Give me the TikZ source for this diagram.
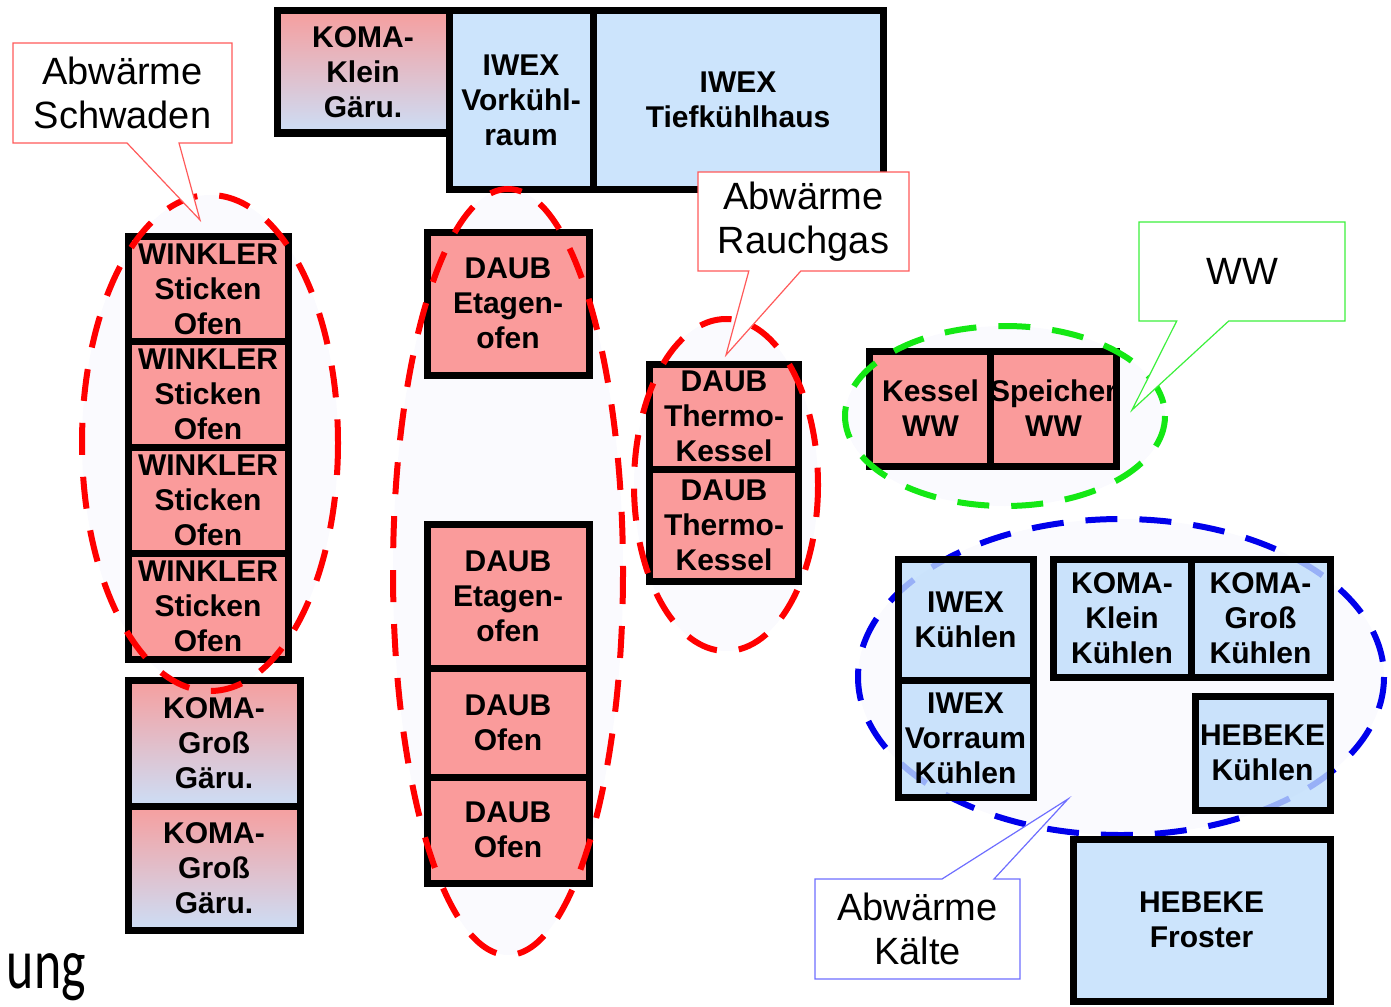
\documentclass[tikz,border=0pt]{standalone}
\usepackage{fontspec}
\setmainfont{Liberation Sans}
\newfontfamily\slidefont{Carlito}
\usetikzlibrary{shapes.callouts}

\definecolor{ofenrot}{RGB}{250,155,155}
\definecolor{kaltblau}{RGB}{191,221,251}
\definecolor{gaerrot}{RGB}{246,158,158}
\definecolor{gaerblau}{RGB}{204,222,246}
\definecolor{hauch}{RGB}{250,250,254}
\definecolor{ringrot}{RGB}{255,0,0}
\definecolor{ringgruen}{RGB}{20,232,20}
\definecolor{ringblau}{RGB}{0,0,235}
\definecolor{zettelrot}{RGB}{255,90,90}
\definecolor{zettelgruen}{RGB}{60,240,60}
\definecolor{zettelblau}{RGB}{110,110,255}

\begin{document}
\begin{tikzpicture}[x=1pt, y=-1pt,
    anlage/.style={rectangle, draw=black, line width=7pt, inner sep=0pt, align=center,
      font=\fontsize{30}{35}\selectfont\bfseries},
    ofen/.style={anlage, fill=ofenrot},
    kuehl/.style={anlage, fill=kaltblau, fill opacity=0.8, text opacity=1},
    gaer/.style={anlage, top color=gaerrot, bottom color=gaerblau},
    gruppe/.style={line width=6pt, dash pattern=on 32pt off 22pt},
    hinweis/.style={rectangle callout, fill=white, line width=1.2pt, inner sep=0pt,
      align=center, callout pointer width=52pt, font=\fontsize{38}{44}\selectfont}]
  \useasboundingbox (0,0) rectangle (1391,1006);

  % helle Gruppenflaechen
  \fill[hauch] (210,443) ellipse [x radius=128, y radius=248];
  \fill[hauch] (508,572) ellipse [x radius=115, y radius=383];
  \fill[hauch] (726,485) ellipse [x radius=92, y radius=166];
  \fill[hauch] (1005,416) ellipse [x radius=160, y radius=90];
  \draw[gruppe, ringblau, fill=hauch] (1121,677) ellipse [x radius=263, y radius=158];

  % obere Reihe
  \node[gaer, minimum width=172, minimum height=122] (kleingaer) at (363,72) {KOMA-\\Klein\\Gäru.};
  \node[kuehl, minimum width=144, minimum height=178] (vorkuehl) at (521,100) {IWEX\\Vorkühl-\\raum};
  \node[kuehl, minimum width=290, minimum height=178] (tiefkuehl) at (738,100) {IWEX\\Tiefkühlhaus};

  % Winkler und Gaerraeume
  \foreach \i/\y in {1/289,2/394.5,3/500,4/606}
    \node[ofen, minimum width=160, minimum height=106] (winkler\i) at (208,\y) {WINKLER\\Sticken\\Ofen};
  \node[gaer, minimum width=172, minimum height=126] (grossgaer1) at (214,743) {KOMA-\\Groß\\Gäru.};
  \node[gaer, minimum width=172, minimum height=124] (grossgaer2) at (214,868) {KOMA-\\Groß\\Gäru.};

  % Daub
  \node[ofen, minimum width=162, minimum height=143] (etagen1) at (508,303.5) {DAUB\\Etagen-\\ofen};
  \node[ofen, minimum width=162, minimum height=144] (etagen2) at (508,596) {DAUB\\Etagen-\\ofen};
  \node[ofen, minimum width=162, minimum height=109] (daubofen1) at (508,722.5) {DAUB\\Ofen};
  \node[ofen, minimum width=162, minimum height=106] (daubofen2) at (508,830) {DAUB\\Ofen};
  \node[ofen, minimum width=149, minimum height=105] (thermo1) at (724,416.5) {DAUB\\Thermo-\\Kessel};
  \node[ofen, minimum width=149, minimum height=112] (thermo2) at (724,525) {DAUB\\Thermo-\\Kessel};

  % Warmwasser
  \node[ofen, minimum width=123, minimum height=115] (kesselww) at (930.5,408.5) {Kessel\\WW};
  \node[ofen, minimum width=123, minimum height=115] (speicherww) at (1053.5,408.5) {Speicher\\WW};

  % Kuehlung
  \node[kuehl, minimum width=135, minimum height=121] (iwexkuehl) at (965.5,619.5) {IWEX\\Kühlen};
  \node[kuehl, minimum width=135, minimum height=117] (vorraum) at (965.5,738.5) {IWEX\\Vorraum\\Kühlen};
  \node[kuehl, minimum width=138, minimum height=118] (kleinkuehl) at (1122,618) {KOMA-\\Klein\\Kühlen};
  \node[kuehl, minimum width=139, minimum height=118] (grosskuehl) at (1260.5,618) {KOMA-\\Groß\\Kühlen};
  \node[kuehl, minimum width=135, minimum height=114] (hebekuehl) at (1262.5,753) {HEBEKE\\Kühlen};
  \node[kuehl, minimum width=257, minimum height=162] (froster) at (1201.5,920) {HEBEKE\\Froster};

  % Gruppenraender
  \draw[gruppe, ringrot] (210,443) ellipse [x radius=128, y radius=248];
  \draw[gruppe, ringrot] (508,572) ellipse [x radius=115, y radius=383];
  \draw[gruppe, ringrot] (726,485) ellipse [x radius=92, y radius=166];
  \draw[gruppe, ringgruen] (1005,416) ellipse [x radius=160, y radius=90];

  % Hinweise
  \coordinate (schwadenziel) at (200,220);
  \coordinate (rauchziel) at (726,355);
  \coordinate (wwziel) at (1132,410);
  \coordinate (kaelteziel) at (1068,799);
  \node[hinweis, draw=zettelrot, minimum width=219, minimum height=100,
    callout absolute pointer={(schwadenziel)}] (schwaden) at (122.5,93) {Abwärme\\Schwaden};
  \node[hinweis, draw=zettelrot, minimum width=211, minimum height=99,
    callout absolute pointer={(rauchziel)}] (rauchgas) at (803.5,221.5) {Abwärme\\Rauchgas};
  \node[hinweis, draw=zettelgruen, minimum width=206, minimum height=99,
    callout absolute pointer={(wwziel)}] (ww) at (1242,271.5) {WW};
  \node[hinweis, draw=zettelblau, minimum width=205, minimum height=100,
    callout absolute pointer={(kaelteziel)}] (kaelte) at (917.5,929) {Abwärme\\Kälte};

  \node[anchor=base east, inner sep=0pt, font=\slidefont\fontsize{72}{80}\selectfont] (ung) at (86,988) {\scalebox{0.72}[1]{ung}};
\end{tikzpicture}
\end{document}
